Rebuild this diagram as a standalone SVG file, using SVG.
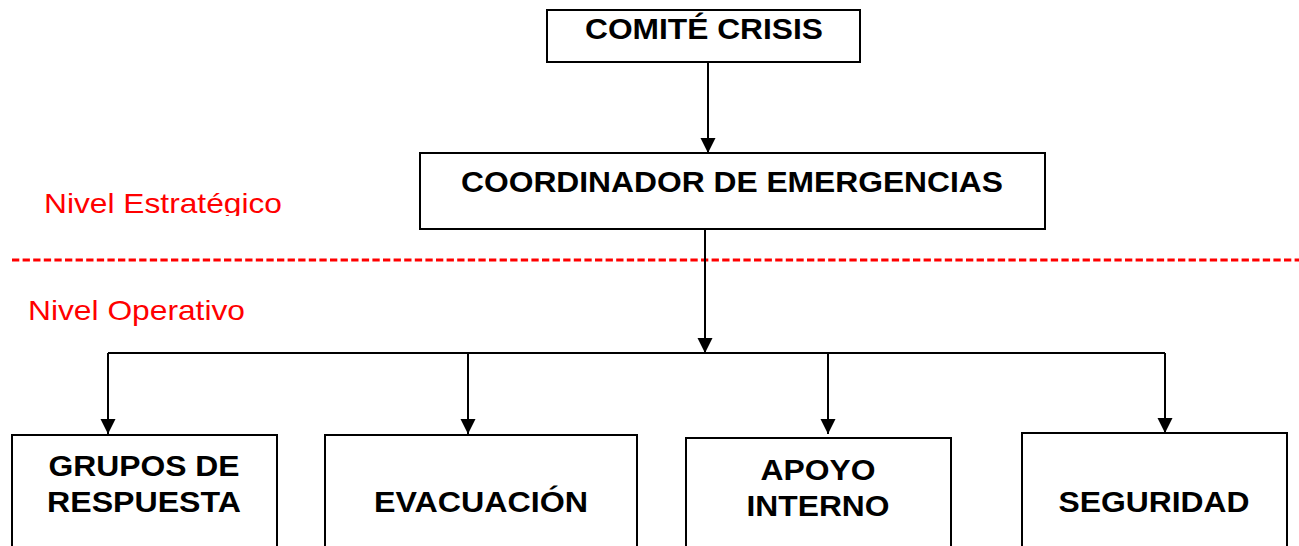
<svg xmlns="http://www.w3.org/2000/svg" width="1299" height="546" viewBox="0 0 1299 546">
<style>
.box{fill:#fff;stroke:#000;stroke-width:2}
.t{font-family:"Liberation Sans",Arial,sans-serif;font-weight:bold;font-size:29px;fill:#000;text-anchor:middle}
.r{font-family:"Liberation Sans",Arial,sans-serif;font-size:28px;fill:#ff0000}
.c{fill:none;stroke:#000;stroke-width:2}
</style>
<defs>
<marker id="ah" markerUnits="userSpaceOnUse" markerWidth="16" markerHeight="16" viewBox="0 0 16 16" refX="15" refY="8" orient="auto">
<path d="M0,0.5 L15,8 L0,15.5 Z" fill="#000"/>
</marker>
<clipPath id="clipE"><rect x="0" y="180" width="400" height="36"/></clipPath>
</defs>
<g id="labels">
<text class="r" x="44" y="213" textLength="238" lengthAdjust="spacingAndGlyphs" clip-path="url(#clipE)">Nivel Estratégico</text>
<text class="r" x="28" y="320" textLength="217" lengthAdjust="spacingAndGlyphs">Nivel Operativo</text>
<line x1="12" y1="260" x2="1299" y2="260" stroke="#ff0000" stroke-width="3" stroke-dasharray="7.3 3.3"/>
</g>
<g id="connectors">
<path class="c" d="M708,62 V153" marker-end="url(#ah)"/>
<path class="c" d="M705,229 V353" marker-end="url(#ah)"/>
<path class="c" d="M108,353 H1165"/>
<path class="c" d="M108,353 V434" marker-end="url(#ah)"/>
<path class="c" d="M468,353 V434" marker-end="url(#ah)"/>
<path class="c" d="M828,353 V434" marker-end="url(#ah)"/>
<path class="c" d="M1165,353 V433" marker-end="url(#ah)"/>
</g>
<g id="comite">
<rect class="box" x="547" y="10" width="313" height="52"/>
<text class="t" x="704" y="39" textLength="238" lengthAdjust="spacingAndGlyphs">COMITÉ CRISIS</text>
</g>
<g id="coordinador">
<rect class="box" x="420" y="153" width="625" height="76"/>
<text class="t" x="732" y="192" textLength="542" lengthAdjust="spacingAndGlyphs">COORDINADOR DE EMERGENCIAS</text>
</g>
<g id="grupos">
<rect class="box" x="12" y="435" width="265" height="130"/>
<text class="t" x="144" y="476" textLength="191" lengthAdjust="spacingAndGlyphs">GRUPOS DE</text>
<text class="t" x="144" y="512" textLength="194" lengthAdjust="spacingAndGlyphs">RESPUESTA</text>
</g>
<g id="evacuacion">
<rect class="box" x="325" y="435" width="312" height="130"/>
<text class="t" x="481" y="512" textLength="214" lengthAdjust="spacingAndGlyphs">EVACUACIÓN</text>
</g>
<g id="apoyo">
<rect class="box" x="686" y="438" width="265" height="130"/>
<text class="t" x="818" y="480" textLength="115" lengthAdjust="spacingAndGlyphs">APOYO</text>
<text class="t" x="818" y="516" textLength="143" lengthAdjust="spacingAndGlyphs">INTERNO</text>
</g>
<g id="seguridad">
<rect class="box" x="1022" y="433" width="265" height="130"/>
<text class="t" x="1154" y="512" textLength="191" lengthAdjust="spacingAndGlyphs">SEGURIDAD</text>
</g>
</svg>
